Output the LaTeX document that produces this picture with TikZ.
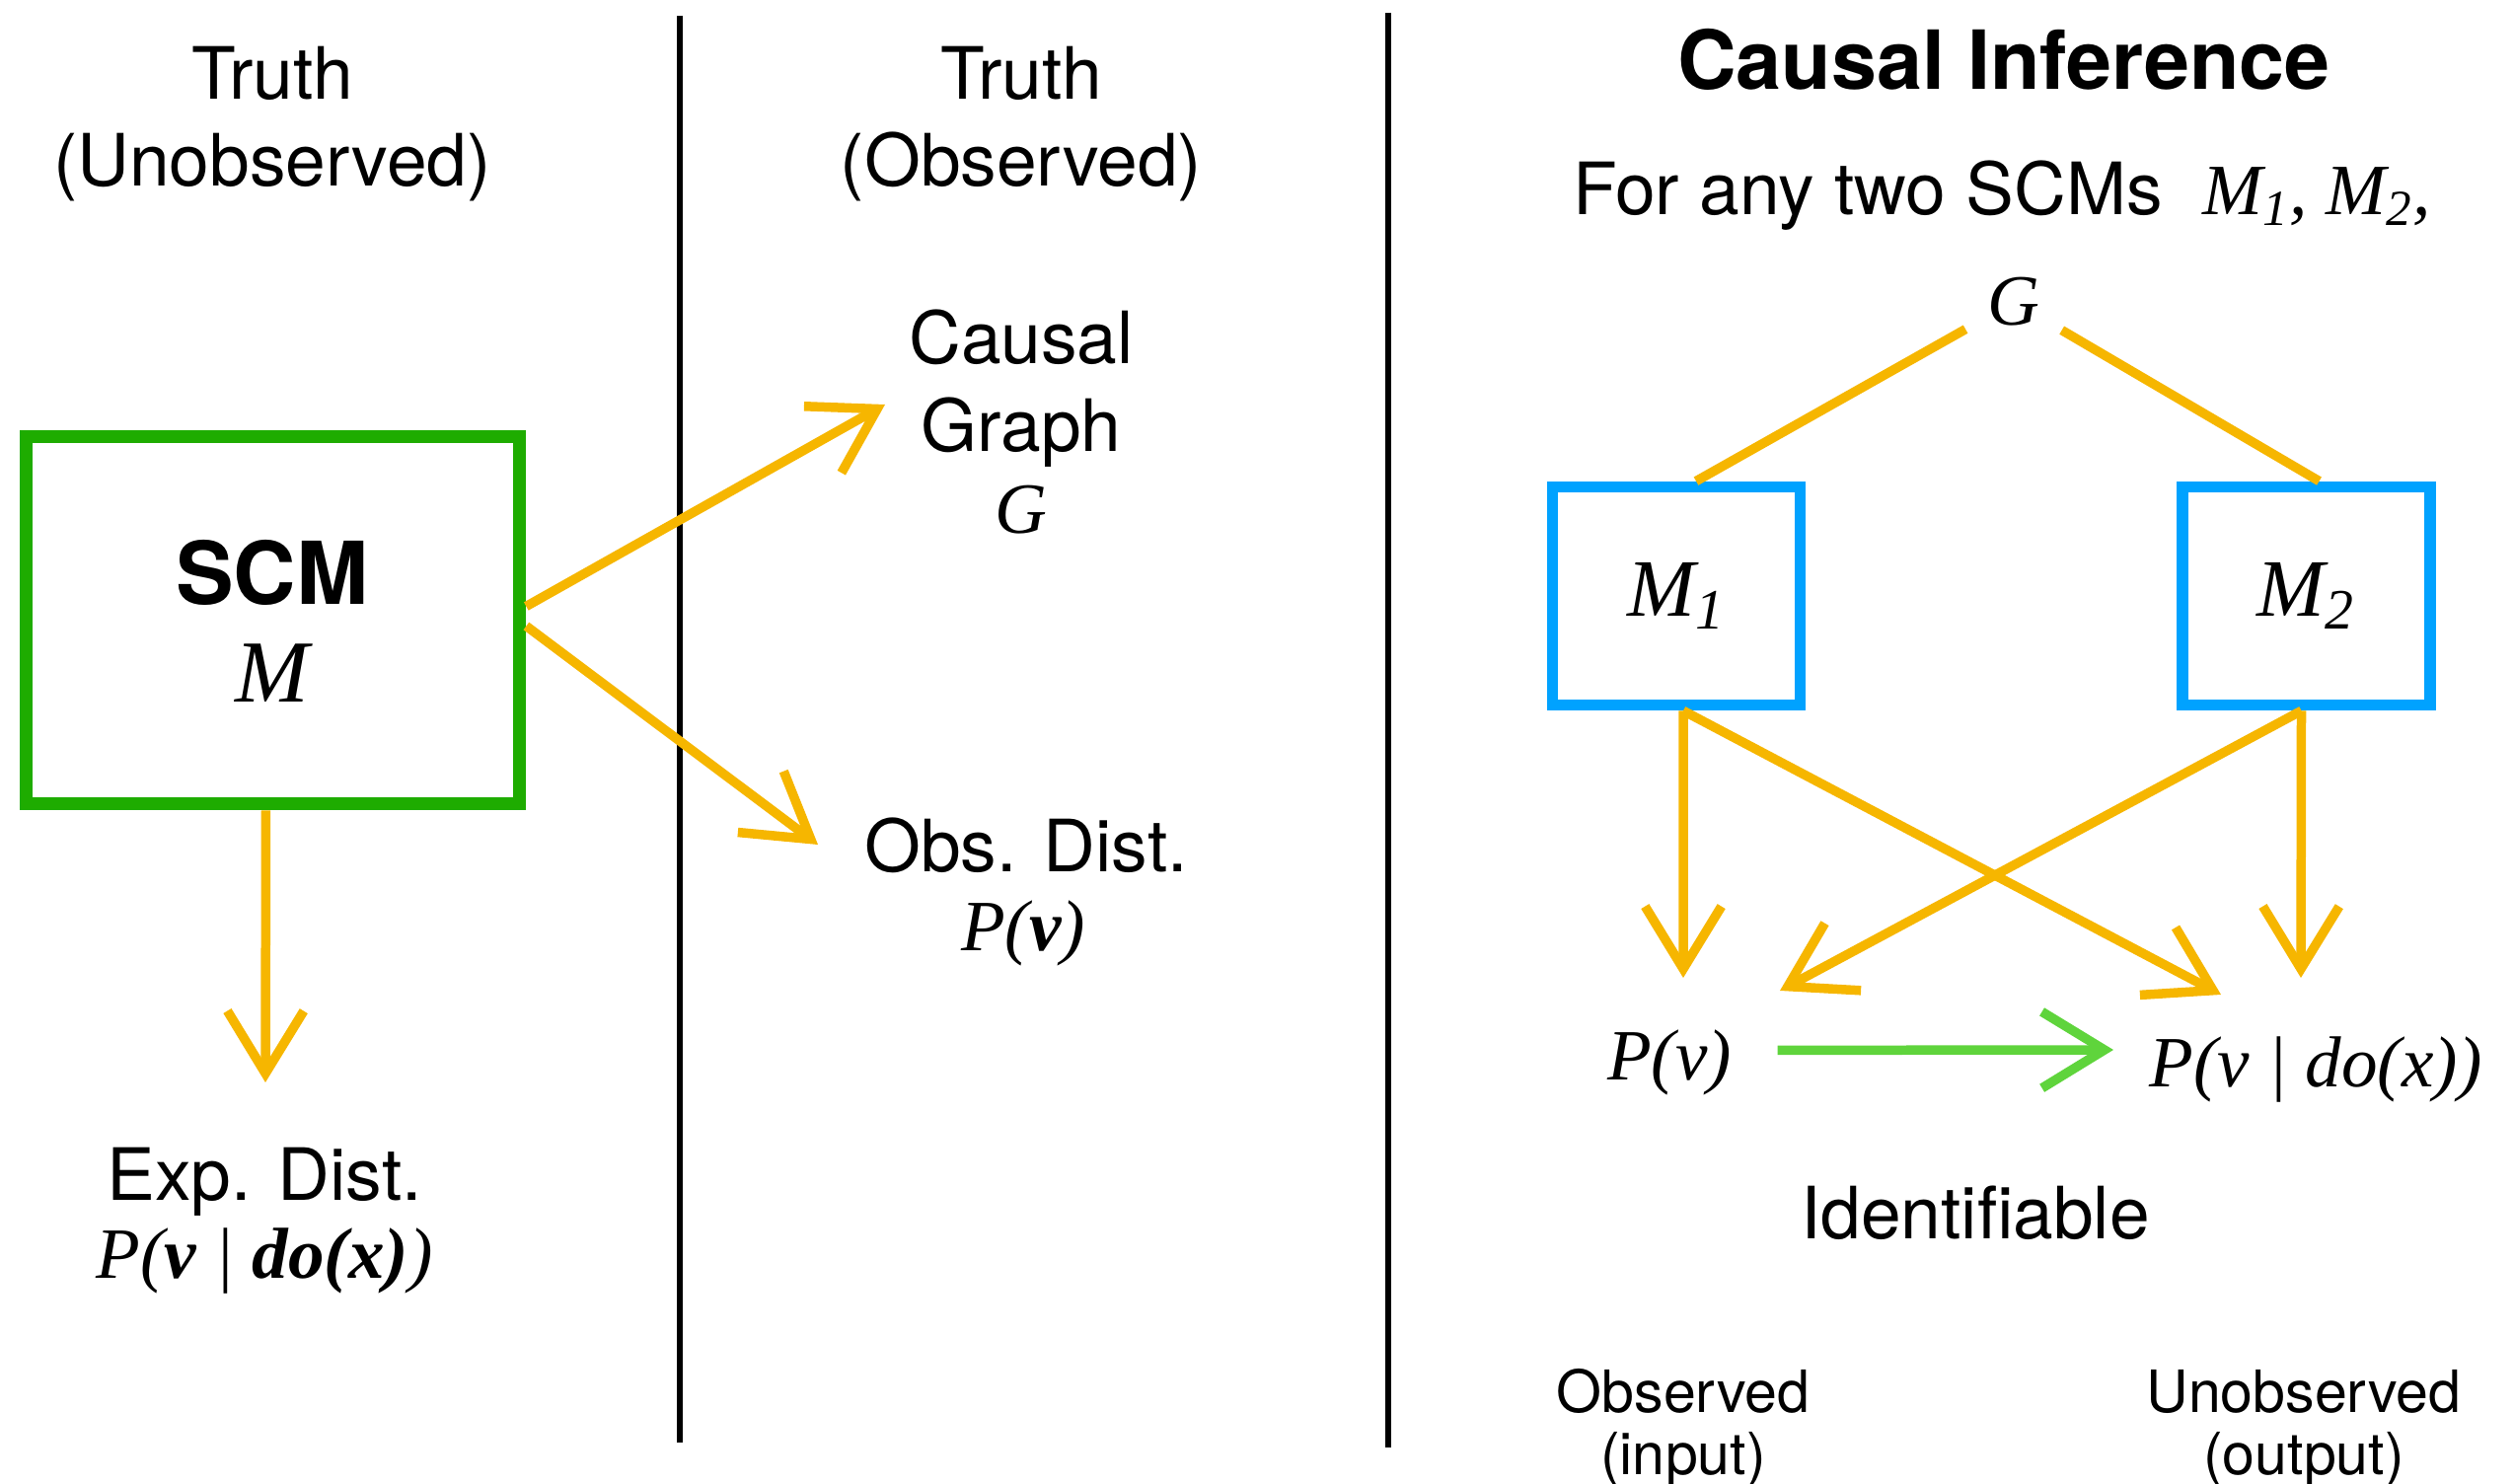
\documentclass[tikz,border=0pt]{standalone}
\usepackage{fontspec}
\setmainfont{TeX Gyre Heros}
\newfontfamily\tms{Liberation Serif}
\usetikzlibrary{arrows.meta}
\definecolor{cyel}{RGB}{246,182,0}
\definecolor{cgreen}{RGB}{30,172,0}
\definecolor{cblue}{RGB}{0,162,255}
\definecolor{clime}{RGB}{95,212,60}
\newcommand{\vi}[1]{{\tms\itshape #1}}
\newcommand{\vb}[1]{{\tms\itshape\bfseries #1}}
\tikzset{
  canvas/.style={x=0.01cm,y=-0.01cm},
  txt/.style={anchor=base,inner sep=0pt,font=\fontsize{20.8}{25}\selectfont},
  small/.style={anchor=base,inner sep=0pt,font=\fontsize{16.8}{17}\selectfont},
  model/.style={draw=cblue,line width=3.3pt,minimum width=2.51cm,minimum height=2.21cm,inner sep=0pt,font=\fontsize{23.5}{23}\selectfont},
  flow/.style={draw=cyel,line width=2.7pt,-{Straight Barb[length=18pt,width=22pt]}},
  link/.style={draw=cyel,line width=2.7pt,shorten <=0.25cm},
  divider/.style={line width=1.6pt}
}

\begin{document}
\begin{tikzpicture}[canvas]
    \useasboundingbox (0,0) rectangle (2548,1504);
    \draw[divider] (689,16) -- (689,1462); % left divider
    \draw[divider] (1407,13) -- (1407,1467); % right divider
    % left panel
    \node[txt] (truthL) at (276,101) {Truth};
    \node[txt] (unobsL) at (276,189) {(Unobserved)};
    \node[draw=cgreen,line width=3.8pt,minimum width=5cm,minimum height=3.72cm] (scm) at (276.5,628.5) {};
    \node[txt,font=\fontsize{25}{25}\selectfont\bfseries] (scmname) at (276,613) {SCM};
    \node[txt,font=\fontsize{25.5}{25}\selectfont] (scmM) at (276,712) {\vi{M}};
    \node[txt] (expdist) at (268,1216) {Exp. Dist.};
    \node[txt] (pdoL) at (268,1295) {\vi{P(}\vb{v}\vi{ | }\vb{do(x)}\vi{)}};
    % middle panel
    \node[txt] (truthM) at (1035,101) {Truth};
    \node[txt] (obsM) at (1035,189) {(Observed)};
    \node[txt] (causal) at (1035,369) {Causal};
    \node[txt] (graph) at (1035,458) {Graph};
    \node[txt] (gM) at (1035,541) {\vi{G}};
    \node[txt] (obsdist) at (1040,884) {Obs. Dist.};
    \node[txt] (pvM) at (1037,964) {\vi{P(}\vb{v}\vi{)}};
    \coordinate (toGraph) at (897,410);
    \coordinate (toObs) at (829,856);
    \coordinate (toExp) at (269,1097);
    \draw[flow] ([yshift=0.14cm]scm.east) -- (toGraph);
    \draw[flow] ([yshift=-0.06cm]scm.east) -- (toObs);
    \draw[flow] ([xshift=-0.07cm]scm.south) -- (toExp);
    % right panel
    \node[txt,font=\fontsize{23.5}{25}\selectfont\bfseries] (title) at (2031,91) {Causal Inference};
    \node[txt] (forany) at (2029,218) {For any two SCMs\ \ \vi{M\textsubscript{1}, M\textsubscript{2},}};
    \node[txt] (gR) at (2041,330) {\vi{G}};
    \node[model] (m1) at (1699,604) {\vi{M\textsubscript{1}}};
    \node[model] (m2) at (2337.5,604) {\vi{M\textsubscript{2}}};
    \draw[link] (gR) -- ([xshift=0.2cm]m1.north);
    \draw[link] (gR) -- ([xshift=0.13cm]m2.north);
    \node[txt] (pvR) at (1692,1094) {\vi{P(v)}};
    \node[txt] (pdoR) at (2347,1102) {\vi{P(v | do(x))}};
    \coordinate (tipA) at (1706,991);
    \coordinate (tipB) at (2251,1008);
    \coordinate (tipC) at (2332,991);
    \coordinate (tipD) at (1804,1004);
    \coordinate (tipE) at (2142,1064);
    \draw[flow] ([xshift=0.07cm]m1.south) -- (tipA);
    \draw[flow] ([xshift=0.07cm]m1.south) -- (tipB);
    \draw[flow] ([xshift=-0.05cm]m2.south) -- (tipC);
    \draw[flow] ([xshift=-0.05cm]m2.south) -- (tipD);
    \draw[flow,draw=clime] ([xshift=0.46cm,yshift=0.12cm]pvR.east) -- (tipE); % identification
    \node[txt] (ident) at (2002,1255) {Identifiable};
    \node[small] (obsR) at (1706,1431) {Observed};
    \node[small] (inR) at (1706,1494) {(input)};
    \node[small] (unobsR) at (2335,1431) {Unobserved};
    \node[small] (outR) at (2335,1494) {(output)};
\end{tikzpicture}
\end{document}
